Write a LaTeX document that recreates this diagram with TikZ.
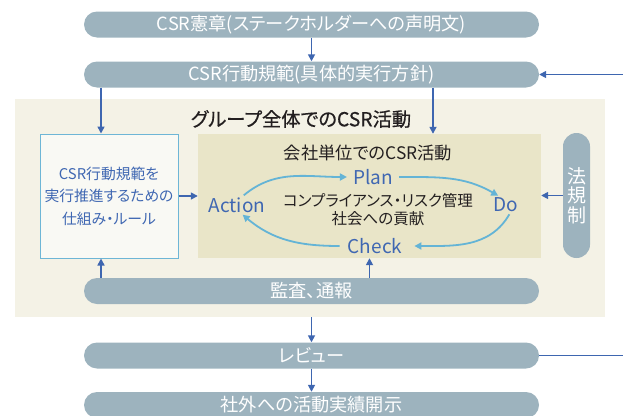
\documentclass[tikz,border=0pt]{standalone}
\usepackage{fontspec}
\setmainfont{Noto Sans CJK JP}[RawFeature=+palt]
\newfontfamily\titlefont{Noto Sans CJK JP}[RawFeature=+palt, FakeBold=0.5]
\usetikzlibrary{arrows.meta}
\definecolor{pillc}{HTML}{9DB3BE}
\definecolor{arrc}{HTML}{3E66B0}
\definecolor{cycc}{HTML}{64B4D6}
\definecolor{bgc}{HTML}{F4F2E6}
\definecolor{innerc}{HTML}{E9E5C8}
\definecolor{lboxfill}{HTML}{F9F9F4}
\definecolor{lboxdraw}{HTML}{6EB6D6}
\definecolor{bluetext}{HTML}{3F67B2}
\definecolor{darktext}{HTML}{231F20}
\tikzset{
  pill/.style={fill=pillc, text=white, rounded corners=13pt, minimum width=455pt, minimum height=26pt, inner sep=0pt, font=\fontsize{18.2}{20}\selectfont},
  arr/.style={draw=arrc, line width=1.6pt, -{Triangle[length=7pt,width=7pt]}},
  plainline/.style={draw=arrc, line width=1.6pt},
  cyc/.style={draw=cycc, line width=1.8pt, -{Triangle[length=7pt,width=7pt]}},
  pdca/.style={text=bluetext, inner sep=2pt, font=\fontsize{19}{21}\selectfont},
}
\begin{document}
\begin{tikzpicture}[x=1pt,y=-1pt]
\useasboundingbox (0,0) rectangle (623,415);
\clip (0,0) rectangle (623,415);
% background
\node[fill=bgc, minimum width=590pt, minimum height=218pt, inner sep=0pt] (bg) at (310,208) {};
% pills
\node[pill] (p1) at (311.5,24.5) {CSR憲章(ステークホルダーへの声明文)};
\node[pill] (p2) at (311.5,74.5) {CSR行動規範(具体的実行方針)};
\node[pill] (audit) at (311.5,291) {監査、通報};
\node[pill] (rev) at (311.5,355.5) {レビュー};
\node[pill] (disc) at (311.5,405) {社外への活動実績開示};
% title
\node[text=darktext, font=\titlefont\fontsize{19.3}{21}\selectfont, inner sep=0pt] (title) at (301,119) {グループ全体でのCSR活動};
% left box
\node[fill=lboxfill, draw=lboxdraw, line width=1pt, minimum width=138pt, minimum height=124pt, inner sep=0pt, text=bluetext, align=center, font=\fontsize{14.8}{22.5}\selectfont] (lbox) at (109,196) {CSR行動規範を\\実行推進するための\\仕組み・ルール};
% inner box
\node[fill=innerc, minimum width=343pt, minimum height=124pt, inner sep=0pt] (inner) at (369.5,196) {};
\node[text=darktext, font=\fontsize{17.3}{19}\selectfont, inner sep=0pt] (ititle) at (368,153) {会社単位でのCSR活動};
% law pill
\node[fill=pillc, text=white, rounded corners=13.5pt, minimum width=27pt, minimum height=125pt, inner sep=0pt, align=center, font=\fontsize{19}{19.5}\selectfont] (law) at (576.5,195.5) {法\\規\\制};
% PDCA
\node[pdca] (plan) at (373,177) {Plan};
\node[pdca] (do) at (506,205) {Do};
\node[pdca] (check) at (375,246) {Check};
\node[pdca] (act) at (237,205) {Action};
\node[text=darktext, align=center, inner sep=0pt, font=\fontsize{15.5}{18}\selectfont] (center) at (378,210) {コンプライアンス・リスク管理\\社会への貢献};
% cycle arrows
\draw[cyc] (act.55) to[out=40,in=180] ([xshift=-4pt]plan.west);
\draw[cyc] ([xshift=4pt]plan.east) to[out=0,in=150] (do.130);
\draw[cyc] (do.-70) to[out=-120,in=0] ([xshift=10pt]check.east);
\draw[cyc] ([xshift=-6pt]check.west) to[out=180,in=-40] (act.-60);
% connectors
\coordinate (r1) at (623,74.5);
\coordinate (r2) at (623,355.5);
\draw[arr] (p1.south) -- (p2.north);
\draw[arr] (r1) -- (p2.east);
\draw[arr] ([xshift=-8pt]lbox.north |- p2.south) -- ([xshift=-8pt]lbox.north);
\draw[arr] ([xshift=63.5pt]inner.north |- p2.south) -- ([xshift=63.5pt]inner.north);
\draw[arr] (lbox.east) -- (inner.west);
\draw[arr] (law.west) -- (inner.east |- law.west);
\draw[arr] ([xshift=-8pt]lbox.south |- audit.north) -- ([xshift=-8pt]lbox.south);
\draw[arr] (inner.south |- audit.north) -- (inner.south);
\draw[arr] (bg.south -| rev.north) -- (rev.north);
\draw[plainline] (rev.east) -- (r2);
\draw[arr] (rev.south) -- (disc.north);
\end{tikzpicture}
\end{document}
